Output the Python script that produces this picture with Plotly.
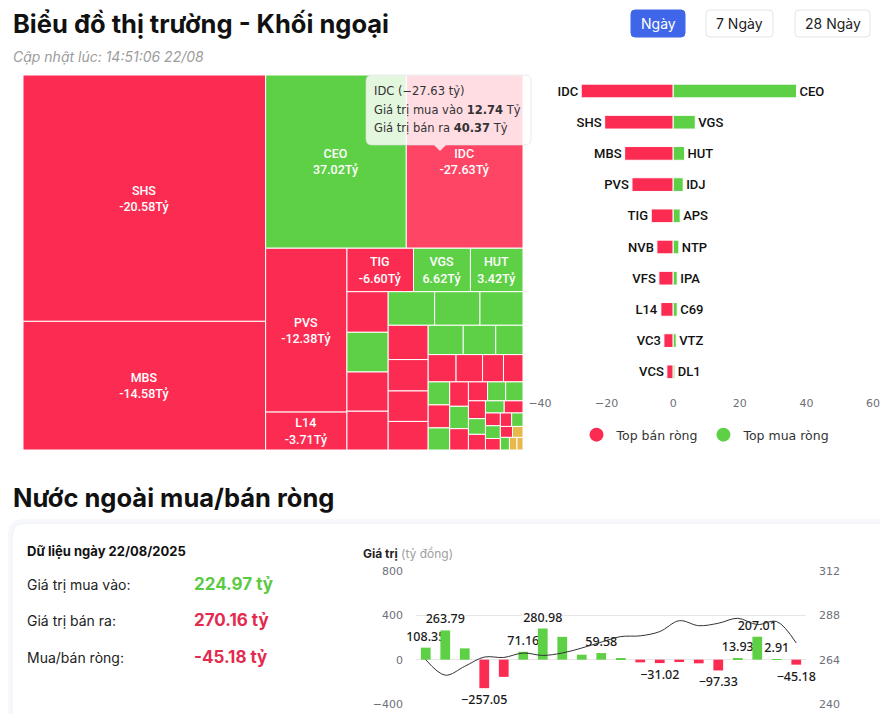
import plotly.graph_objects as go

W, H = 880, 714


def X(px):
    return px / W


def Y(py):
    return 1 - py / H


# ---------------- data ----------------
title_main = "Biểu đồ thị trường - Khối ngoại"
updated_at = "Cập nhật lúc: 14:51:06 22/08"
period_buttons = ["Ngày", "7 Ngày", "28 Ngày"]

# treemap: cell size (estimated total traded value, tỷ) and net value (tỷ)
tm_names = ["SHS", "MBS", "CEO", "IDC", "PVS", "L14", "TIG", "VGS", "HUT",
            "NVB", "IDJ", "VFS", "BVS", "APS", "NTP", "IPA", "VC3", "TNG", "PVI",
            "C69", "VTZ", "DL1", "VCS", "DTD", "HHC", "PLC", "MBG", "SHN", "MST",
            "PVB", "DHT", "TVD", "CAP", "SLS", "LAS", "THD", "NRC", "VMC", "KSV",
            "VIT", "HGM", "SD5", "PVC", "NET", "HLD", "VC7", "TA9", "SCG", "EVS",
            "DXP", "BCC"]
tm_size = [157, 82, 64, 53.11, 35, 8.1, 7.6, 6.5, 6.0,
           4.4, 4.3, 4.25, 4.2, 4.1, 4.0, 3.8, 3.6, 3.3, 3.2,
           2.7, 2.5, 2.1, 2.0, 1.9, 1.5, 1.4, 1.3, 1.3, 1.2,
           1.1, 1.05, 0.95, 0.9, 0.86, 0.8, 0.7, 0.7, 0.6, 0.6,
           0.5, 0.5, 0.45, 0.4, 0.4, 0.35, 0.3, 0.3, 0.25, 0.2,
           3.0, 1.25]
tm_net = [-20.58, -14.58, 37.02, -27.63, -12.38, -3.71, -6.60, 6.62, 3.42,
          -4.90, 3.00, -4.30, -1.60, 2.10, 1.70, 1.20, -2.80, -1.50, -1.40,
          1.20, 0.90, 0.50, -1.90, -1.30, -1.20, -1.10, 0.40, -1.00, -0.90,
          0.35, -0.80, -0.70, 0.30, 0.30, -0.60, 0.25, -0.50, 0.20, -0.15,
          -0.40, 0.15, -0.12, -0.30, 0.10, -0.20, 0.00, 0.10, 0.00, 0.00,
          -1.70, 0.45]
tm_labelled = ["SHS", "MBS", "CEO", "IDC", "PVS", "L14", "TIG", "VGS", "HUT"]
hovered = "IDC"
idc_buy = 12.74
idc_sell = 40.37

# top net sell / net buy
sell_names = ["IDC", "SHS", "MBS", "PVS", "TIG", "NVB", "VFS", "L14", "VC3", "VCS"]
sell_vals = [-27.63, -20.58, -14.58, -12.38, -6.60, -4.90, -4.30, -3.71, -2.80, -1.90]
buy_names = ["CEO", "VGS", "HUT", "IDJ", "APS", "NTP", "IPA", "C69", "VTZ", "DL1"]
buy_vals = [37.02, 6.62, 3.42, 3.00, 2.10, 1.70, 1.20, 1.20, 0.90, 0.50]
rank = list(range(1, 11))
bar_ticks = [-40, -20, 0, 20, 40, 60]

# daily summary
day_label = "22/08/2025"
buy_total = 224.97
sell_total = 270.16
net_total = -45.18

# net flow history (tỷ đồng) and index (right axis)
dates = ["28/07", "29/07", "30/07", "31/07", "01/08", "04/08", "05/08", "06/08",
         "07/08", "08/08", "11/08", "12/08", "13/08", "14/08", "15/08", "18/08",
         "19/08", "20/08", "21/08", "22/08"]
net_flow = [108.35, 263.79, 102.0, -257.05, -155.0, 71.16, 280.98, 206.0, 45.0, 59.58,
            12.0, -24.0, -31.02, -21.0, -33.0, -97.33, 13.93, 207.01, 2.91, -45.18]
index_vals = [264.0, 255.6, 260.4, 265.4, 265.2, 267.6, 266.3, 267.6, 270.3, 273.5,
              276.5, 276.9, 279.2, 285.1, 282.4, 283.7, 286.4, 283.0, 284.6, 273.0]
flow_labelled = [0, 1, 3, 5, 6, 9, 12, 15, 16, 17, 18, 19]
flow_ticks = [-400, 0, 400, 800]
index_ticks = [240, 264, 288, 312]

# ---------------- style ----------------
RED = "#FC2B51"
RED_HOVER = "#FF4565"
GREEN = "#5ED046"
YELLOW = "#E9B84A"
TXT_GRAY = "#6E7079"


def tm_color(name, v):
    if name == hovered:
        return RED_HOVER
    if v < 0:
        return RED
    if v > 0:
        return GREEN
    return YELLOW


fig = go.Figure()

# ---------- treemap ----------
fig.add_trace(go.Treemap(
    labels=tm_names,
    parents=[""] * len(tm_names),
    values=tm_size,
    text=[f"{n}<br>{v:.2f}Tỷ" if n in tm_labelled else "" for n, v in zip(tm_names, tm_net)],
    texttemplate="%{text}",
    textposition="middle center",
    textfont=dict(family="Roboto", size=12.5, color="white", weight=500),
    marker=dict(colors=[tm_color(n, v) for n, v in zip(tm_names, tm_net)],
                line=dict(color="white", width=1),
                pad=dict(t=0, l=0, r=0, b=0)),
    tiling=dict(packing="squarify", pad=0),
    pathbar=dict(visible=False),
    sort=True,
    hoverinfo="none",
    domain=dict(x=[X(23), X(523)], y=[Y(450), Y(75)]),
))

# ---------- top sell / buy bars ----------
for names, vals, col in [(sell_names, sell_vals, RED), (buy_names, buy_vals, GREEN)]:
    fig.add_trace(go.Bar(
        y=rank, x=vals, orientation="h", text=names, textposition="outside",
        constraintext="none", cliponaxis=False,
        textfont=dict(family="Roboto", size=13, color="#111", weight=500),
        marker=dict(color=col, line=dict(color="white", width=1)),
        width=0.44, showlegend=False, hoverinfo="skip", xaxis="x", yaxis="y",
    ))
for nm, col in [("Top bán ròng", RED), ("Top mua ròng", GREEN)]:
    fig.add_trace(go.Scatter(x=[None], y=[None], mode="markers", name=nm,
                             marker=dict(color=col, size=14, symbol="circle"),
                             xaxis="x", yaxis="y"))

# ---------- bottom net flow chart ----------
flow_text = []
for i, v in enumerate(net_flow):
    flow_text.append(f"{v:.2f}".replace("-", "\u2212") if i in flow_labelled else "")
fig.add_trace(go.Bar(
    x=dates, y=net_flow, text=flow_text, textposition="outside", constraintext="none",
    cliponaxis=False,
    textfont=dict(family="Noto Sans", size=12.5, color="#1a1a1a", weight=500,
                  shadow="1px 1px 0 #fff, -1px -1px 0 #fff, 1px -1px 0 #fff, -1px 1px 0 #fff"),
    marker=dict(color=[GREEN if v >= 0 else RED for v in net_flow], line=dict(width=0)),
    width=0.5, showlegend=False, hoverinfo="skip", xaxis="x2", yaxis="y2",
))
fig.add_trace(go.Scatter(
    x=dates, y=index_vals, mode="lines", line=dict(color="#333", width=1, shape="spline", smoothing=1),
    showlegend=False, hoverinfo="skip", xaxis="x2", yaxis="y3",
))


# ---------- decoration helpers ----------
def rrect(x0, y0, x1, y1, r):
    return (f"M {X(x0 + r)},{Y(y0)} L {X(x1 - r)},{Y(y0)} Q {X(x1)},{Y(y0)} {X(x1)},{Y(y0 + r)} "
            f"L {X(x1)},{Y(y1 - r)} Q {X(x1)},{Y(y1)} {X(x1 - r)},{Y(y1)} "
            f"L {X(x0 + r)},{Y(y1)} Q {X(x0)},{Y(y1)} {X(x0)},{Y(y1 - r)} "
            f"L {X(x0)},{Y(y0 + r)} Q {X(x0)},{Y(y0)} {X(x0 + r)},{Y(y0)} Z")


shapes = []
annotations = []


def text(x, y, s, size=14, color="#222", family="Inter", xanchor="left"):
    annotations.append(dict(x=X(x), y=Y(y), xref="paper", yref="paper", text=s, showarrow=False,
                            xanchor=xanchor, yanchor="middle", borderpad=0,
                            font=dict(family=family, size=size, color=color)))


# titles
text(12, 24, f"<b>{title_main}</b>", size=25.5, color="#111")
text(12, 57, f"<i>{updated_at}</i>", size=14, color="#9C9C9C")
text(12, 497, "<b>Nước ngoài mua/bán ròng</b>", size=25.5, color="#111")

# period buttons
btn_boxes = [(631, 685), (706, 773), (795, 870)]
for i, (lbl, (bx0, bx1)) in enumerate(zip(period_buttons, btn_boxes)):
    active = i == 0
    shapes.append(dict(type="path", path=rrect(bx0, 10, bx1, 37, 4), xref="paper", yref="paper",
                       fillcolor="#3F66E8" if active else "white",
                       line=dict(color="#3F66E8" if active else "#E2E4E8", width=1), layer="below"))
    text((bx0 + bx1) / 2, 23.5, lbl, size=14, color="white" if active else "#222", xanchor="center")

# card
shapes.append(dict(type="path", path=rrect(8, 519, 900, 760, 16), xref="paper", yref="paper",
                   fillcolor="#F6F8FB", line=dict(width=0), layer="below"))
shapes.append(dict(type="path", path=rrect(12, 523, 896, 760, 14), xref="paper", yref="paper",
                   fillcolor="white", line=dict(color="#ECEFF4", width=1), layer="below"))

text(26, 551, f"<b>Dữ liệu ngày {day_label}</b>", size=13, color="#111")
text(26, 584, "Giá trị mua vào:", size=14, color="#222")
text(26, 620, "Giá trị bán ra:", size=14, color="#222")
text(26, 657, "Mua/bán ròng:", size=14, color="#222")
text(193, 584, f"<b>{buy_total:.2f} tỷ</b>", size=17, color="#5CC945")
text(193, 620, f"<b>{sell_total:.2f} tỷ</b>", size=17, color="#E42A4F")
text(193, 657, f"<b>{net_total:.2f} tỷ</b>", size=17, color="#E42A4F")
text(362, 553, "<b>Giá trị</b> <span style='color:#A0A0A0'>(tỷ đồng)</span>", size=12, color="#222")

# tooltip over IDC
shapes.append(dict(type="path", path=rrect(366, 75, 531, 145, 6), xref="paper", yref="paper",
                   fillcolor="rgba(255,255,255,0.82)", line=dict(color="rgba(220,220,220,0.6)", width=1),
                   layer="above"))
shapes.append(dict(type="path",
                   path=f"M {X(434)},{Y(145)} L {X(446)},{Y(145)} L {X(440)},{Y(151)} Z",
                   xref="paper", yref="paper", fillcolor="rgba(255,255,255,0.82)",
                   line=dict(width=0), layer="above"))
idc_net = round(idc_buy - idc_sell, 2)
text(373, 91, f"IDC ({idc_net:.2f} tỷ)".replace("-", "\u2212"), size=11.5, color="#333", family="DejaVu Sans")
text(373, 110, f"Giá trị mua vào <b>{idc_buy:.2f}</b> Tỷ", size=11.5, color="#333", family="DejaVu Sans")
text(373, 128, f"Giá trị bán ra <b>{idc_sell:.2f}</b> Tỷ", size=11.5, color="#333", family="DejaVu Sans")

fig.update_layout(
    width=W, height=H, margin=dict(l=0, r=0, t=0, b=0, pad=0, autoexpand=False),
    paper_bgcolor="white", plot_bgcolor="rgba(0,0,0,0)",
    barmode="overlay", bargap=0.5,
    showlegend=True,
    legend=dict(orientation="h", x=X(706), xanchor="center", y=Y(435), yanchor="middle",
                font=dict(family="DejaVu Sans", size=12.5, color="#333"), itemwidth=30,
                bgcolor="rgba(0,0,0,0)"),
    xaxis=dict(domain=[X(540), X(873)], range=[-40, 60], tickvals=bar_ticks,
               showgrid=False, zeroline=False, showline=False, ticks="",
               tickfont=dict(family="DejaVu Sans", size=11, color=TXT_GRAY),
               ticklabelstandoff=8, anchor="y", automargin=False),
    yaxis=dict(domain=[Y(387.4), Y(75.4)], range=[10.5, 0.5], showticklabels=False,
               showgrid=False, zeroline=False, showline=False, anchor="x", automargin=False),
    xaxis2=dict(domain=[X(416), X(806)], type="category", showticklabels=False,
                showgrid=False, zeroline=False, showline=False, ticks="", anchor="y2", automargin=False),
    yaxis2=dict(domain=[Y(704), Y(571)], range=[-400, 800], tickvals=flow_ticks,
                showgrid=True, gridcolor="#E6E6E6", gridwidth=1, zeroline=False, showline=False,
                tickfont=dict(family="DejaVu Sans", size=11, color=TXT_GRAY),
                ticklabelstandoff=12, anchor="x2", automargin=False),
    yaxis3=dict(domain=[Y(704), Y(571)], range=[240, 312], tickvals=index_ticks, overlaying="y2",
                side="right", showgrid=False, zeroline=False, showline=False,
                tickfont=dict(family="DejaVu Sans", size=11, color=TXT_GRAY),
                ticklabelstandoff=12, anchor="x2", automargin=False),
    shapes=shapes, annotations=annotations,
)

fig.write_html("out.html")
